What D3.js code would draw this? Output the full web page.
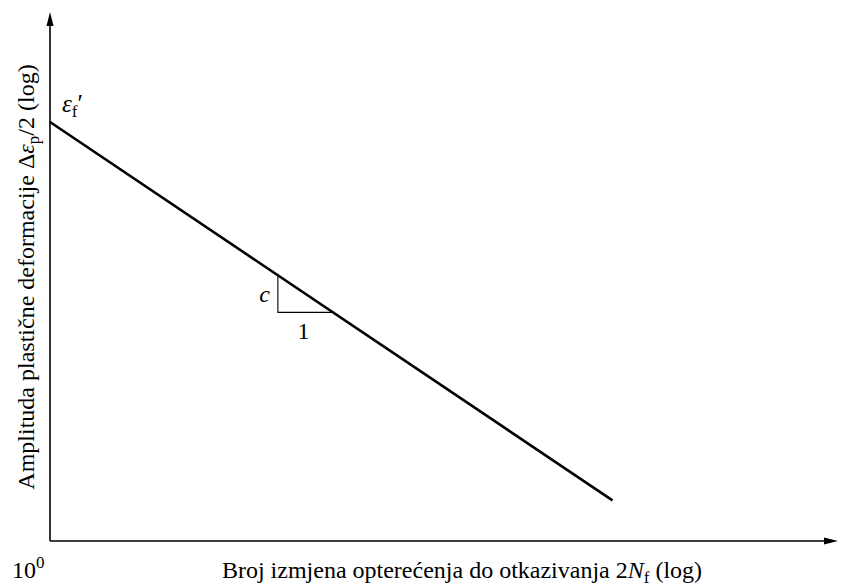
<!DOCTYPE html>
<html><head><meta charset="utf-8">
<script src="https://cdn.jsdelivr.net/npm/d3@7"></script>
</head><body style="margin:0">
<script>
// data
const xExtent = [1, 1.46e7];      // 2Nf axis extent (log)
const yExtent = [2e-4, 3.9];      // strain amplitude axis extent (log)
const epsF = 0.5;                 // fatigue ductility coefficient
const cExp = -0.6;                // fatigue ductility exponent
const lineN = [1, 1.3e5];         // start and end of the Coffin-Manson line
const triN = [118, 374];          // slope triangle span
const xTickLabels = ["10", "0"];

const FONT = "Liberation Serif";
const W = 844, H = 587;
const svg = d3.select("body").append("svg").attr("width", W).attr("height", H);
const x = d3.scaleLog().domain(xExtent).range([50, 838]);
const y = d3.scaleLog().domain(yExtent).range([541, 12]);
const f = n => epsF * Math.pow(n, cExp);
const txt = () => svg.append("text").style("font-family", FONT);
const sp = (sel) => sel.append("tspan").style("font-family", FONT);

// axes
const x0 = x(xExtent[0]), y0 = y(yExtent[0]);
svg.append("line").attr("x1", x0).attr("y1", y0).attr("x2", x(xExtent[1]) - 8).attr("y2", y0)
  .attr("stroke", "#000").attr("stroke-width", 1.6);
svg.append("line").attr("x1", x0).attr("y1", y0).attr("x2", x0).attr("y2", y(yExtent[1]) + 8)
  .attr("stroke", "#000").attr("stroke-width", 1.6);
const xe = x(xExtent[1]), ye = y(yExtent[1]);
svg.append("path").attr("d", `M${xe},${y0} L${xe-14},${y0-3.5} L${xe-14},${y0+3.5} Z`).attr("fill", "#000");
svg.append("path").attr("d", `M${x0},${ye} L${x0-3.5},${ye+14} L${x0+3.5},${ye+14} Z`).attr("fill", "#000");

// main line
const line = d3.line().x(d => x(d)).y(d => y(f(d)));
svg.append("path").datum(lineN).attr("d", line).attr("fill", "none")
  .attr("stroke", "#000").attr("stroke-width", 2.6);

// slope triangle
const tA = [x(triN[0]), y(f(triN[0]))], tB = [x(triN[0]), y(f(triN[1]))], tC = [x(triN[1]), y(f(triN[1]))];
svg.append("path").attr("d", `M${tA[0]},${tA[1]} L${tB[0]},${tB[1]} L${tC[0]},${tC[1]}`)
  .attr("fill", "none").attr("stroke", "#000").attr("stroke-width", 1.1);
txt().attr("x", tA[0] - 8).attr("y", (tA[1] + tB[1]) / 2 + 8).attr("text-anchor", "end")
  .style("font-size", "24px").style("font-style", "italic").text("c");
txt().attr("x", (tB[0] + tC[0]) / 2 - 2).attr("y", tB[1] + 27).attr("text-anchor", "middle")
  .style("font-size", "24px").text("1");

// epsilon f' label
const ef = txt().attr("x", x0 + 12).attr("y", y(epsF) - 10).style("font-size", "25px");
sp(ef).style("font-style", "italic").text("ε");
sp(ef).style("font-size", "17px").attr("dy", 5).text("f");
sp(ef).attr("dy", -5).text("′");

// tick label 10^0
const tl = txt().attr("x", 12).attr("y", 578).style("font-size", "24px");
sp(tl).text(xTickLabels[0]);
sp(tl).style("font-size", "17px").attr("dy", -10).text(xTickLabels[1]);

// x axis title
const xt = txt().attr("x", 462).attr("y", 578).attr("text-anchor", "middle").style("font-size", "24px");
sp(xt).text("Broj izmjena opterećenja do otkazivanja 2");
sp(xt).style("font-style", "italic").text("N");
sp(xt).style("font-size", "17px").attr("dy", 5).text("f");
sp(xt).attr("dy", -5).text(" (log)");

// y axis title
const yt = txt().attr("transform", "translate(34,277) rotate(-90)")
  .attr("text-anchor", "middle").style("font-size", "24px");
sp(yt).text("Amplituda plastične deformacije Δ");
sp(yt).style("font-style", "italic").text("ε");
sp(yt).style("font-size", "17px").attr("dy", 5).text("p");
sp(yt).attr("dy", -5).text("/2 (log)");
</script>
</body></html>
